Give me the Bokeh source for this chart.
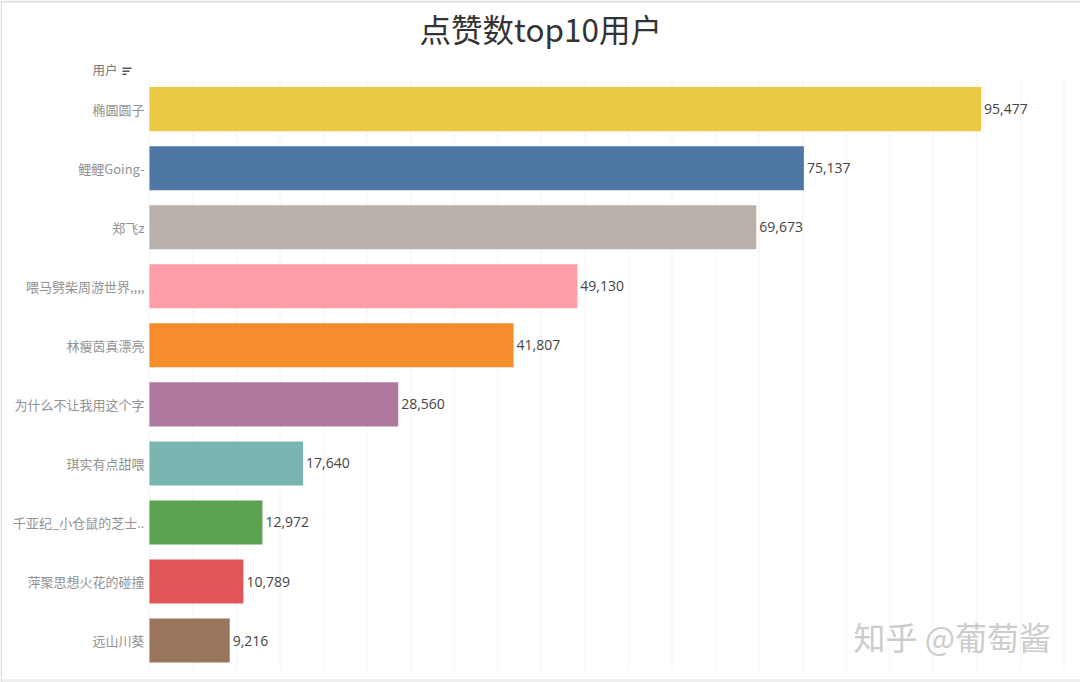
from bokeh.plotting import figure
from bokeh.models import (Range1d, ColumnDataSource, FixedTicker, Label, BoxAnnotation)
from bokeh.core.properties import value
from bokeh.embed import file_html
from bokeh.resources import INLINE

title = "点赞数top10用户"
users = ["椭圆圆子", "鲤鲤Going-", "郑飞z", "喂马劈柴周游世界,,,,", "林瘦茵真漂亮",
         "为什么不让我用这个字", "琪实有点甜喂", "千亚纪_小仓鼠的芝士..", "萍聚思想火花的碰撞", "远山川葵"]
likes = [95477, 75137, 69673, 49130, 41807, 28560, 17640, 12972, 10789, 9216]
colors = ["#EBC944", "#4E77A5", "#BAB0AA", "#FF9DA7", "#F58D2C",
          "#B0789F", "#7AB5B1", "#5BA251", "#E15759", "#9A755E"]
labels = [f"{v:,}" for v in likes]
grid_values = list(range(0, 110000, 5000))
rank = list(range(len(users)))

CJK = "Noto Sans CJK SC"
source = ColumnDataSource(dict(rank=rank, likes=likes, color=colors, label=labels))

p = figure(width=1080, height=682, output_backend="svg", toolbar_location=None,
           x_range=Range1d(-17100, 106895), y_range=Range1d(9.71, -1.84),
           min_border_left=0, min_border_right=0, min_border_top=0, min_border_bottom=0,
           background_fill_color="white", border_fill_color="white", outline_line_color=None)

p.xgrid.visible = False
p.ygrid.visible = False
p.xaxis.visible = False

p.segment(x0=grid_values, x1=grid_values, y0=[-0.5] * len(grid_values), y1=[9.5] * len(grid_values),
          line_color="#f3f3f3", line_width=1)
p.hbar(y="rank", right="likes", left=0, height=0.746, fill_color="color", line_color=None, source=source)
p.text(x="likes", y="rank", text="label", source=source, x_offset=3, text_align="left",
       text_baseline="middle", text_font=value("Open Sans"), text_font_size="14px", text_color="#444444")

ax = p.yaxis[0]
ax.fixed_location = 0
ax.ticker = FixedTicker(ticks=rank)
ax.major_label_overrides = dict(zip(rank, users))
ax.axis_line_color = None
ax.major_tick_line_color = None
ax.minor_tick_line_color = None
ax.major_tick_out = 0
ax.major_tick_in = 0
ax.major_label_standoff = 5
ax.major_label_text_font = CJK
ax.major_label_text_font_size = "13px"
ax.major_label_text_color = "#929292"

def text(x, y, s, size, color):
    p.add_layout(Label(x=x, y=y, x_units="canvas", y_units="canvas", text=s, text_font=CJK,
                       text_font_size=size, text_color=color, text_baseline="middle", text_align="left"))

text(419, 27, title, "31.5px", "#333333")
text(92, 69, "用户", "12.5px", "#777777")
text(853, 635, "知乎 @葡萄酱", "32px", "#cccccc")

# sort icon and page edges
def box(l, r, t, b, c):
    p.add_layout(BoxAnnotation(left=l, right=r, top=t, bottom=b,
                               left_units="canvas", right_units="canvas", top_units="canvas", bottom_units="canvas",
                               fill_color=c, fill_alpha=1, line_color=None))
for top, right in ((67, 131), (70, 129), (73, 126)):
    box(122, right, top, top + 1.5, "#555555")
box(0, 1080, 0, 2.5, "#e4e4e4")
box(0, 1080, 678.5, 682, "#eeeeee")
box(0, 1.5, 0, 682, "#dddddd")

open("out.html", "w").write(file_html(p, INLINE))
